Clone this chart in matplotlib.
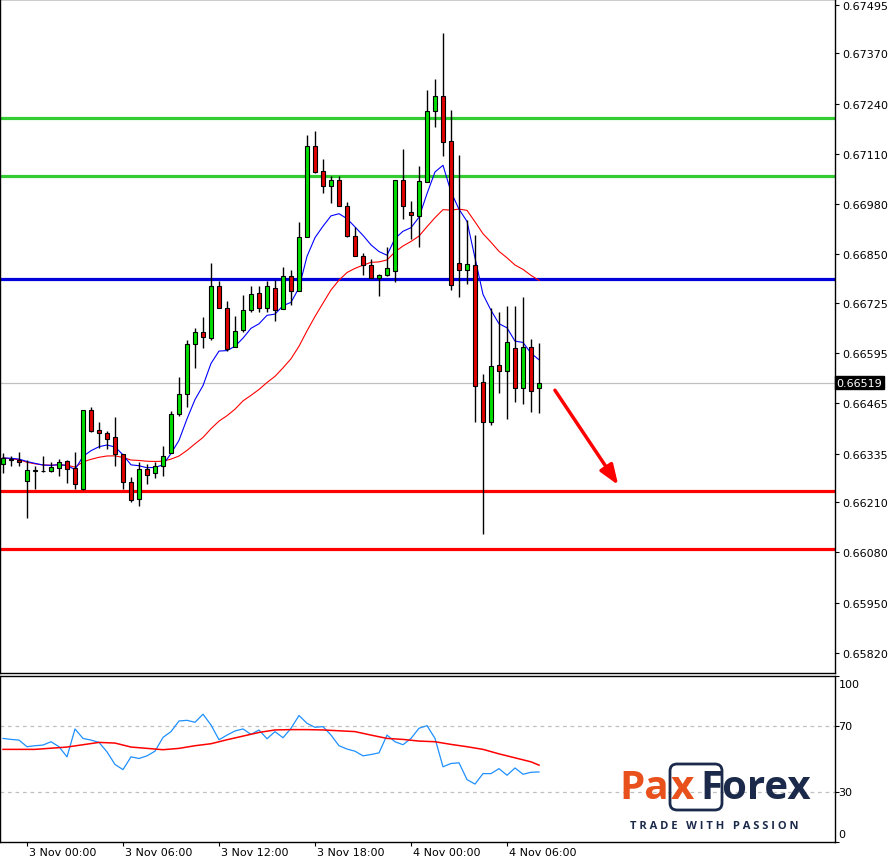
import numpy as np
import pandas as pd
import matplotlib
matplotlib.use("Agg")
import matplotlib.pyplot as plt
from matplotlib.patches import Rectangle, FancyBboxPatch

opens = [66308,66319,66319,66265,66290,66290,66290,66298,66316,66298,66244,66448,66396,66389,66378,66334,66262,66218,66296,66285,
         66303,66337,66438,66489,66619,66650,66634,66769,66712,66611,66655,66707,66750,66712,66763,66709,66794,66756,66895,67130,
         67066,67027,67043,66975,66898,66846,66823,66789,66797,66807,67043,66960,66950,67037,67221,67260,67143,66828,66810,66823,
         66520,66417,66564,66549,66608,66505,66611,66505]
highs = [66337,66329,66340,66319,66303,66329,66314,66322,66319,66340,66448,66456,66417,66394,66430,66334,66275,66314,66309,66314,
         66355,66446,66533,66629,66660,66688,66828,66782,66730,66691,66745,66769,66769,66782,66784,66818,66810,66934,67159,67169,
         67097,67053,67053,66986,66921,66854,66838,66800,66869,67043,67123,66988,67079,67275,67304,67423,67224,67107,66939,66900,
         66541,66712,66701,66717,66717,66740,66632,66621]
lows = [66285,66303,66303,66169,66244,66288,66288,66277,66259,66244,66241,66391,66350,66347,66303,66244,66210,66200,66257,66272,
        66277,66337,66433,66456,66557,66608,66629,66712,66601,66611,66650,66701,66701,66701,66678,66709,66719,66756,66895,67061,
        67009,66983,66975,66895,66846,66797,66789,66743,66794,66779,66942,66890,66869,67037,67180,67105,66758,66740,66774,66417,
        66128,66409,66492,66425,66469,66464,66443,66440]
closes = [66324,66320,66314,66293,66293,66291,66301,66314,66296,66257,66448,66394,66389,66373,66334,66262,66215,66296,66280,66303,
          66329,66438,66489,66619,66650,66637,66769,66712,66606,66652,66707,66748,66712,66769,66707,66794,66756,66895,67130,67063,
          67027,67043,66975,66898,66846,66823,66789,66797,66815,67043,66975,66952,67040,67221,67260,67141,66771,66810,66826,66510,
          66417,66562,66549,66624,66505,66611,66497,66519]

rsi = [62.4,61.8,61.4,57.4,58.0,58.4,60.4,57.4,51.3,68.1,62.4,61.4,60.0,54.3,46.7,43.6,51.3,50.3,51.9,54.7,
       63.0,66.5,72.9,73.3,72.1,77.0,70.5,61.6,64.4,66.9,68.1,64.8,67.5,62.2,66.5,62.8,68.5,76.2,71.5,69.1,
       69.5,64.4,58.0,56.0,54.7,51.9,52.7,53.7,64.4,60.4,58.6,62.4,68.5,70.1,62.4,45.3,47.3,47.7,37.6,34.9,
       41.2,41.2,44.2,40.2,44.6,40.8,42.0,42.2]
rsi_ma_idx = [0,4,8,12,14,16,18,20,22,24,26,28,30,32,34,36,38,40,42,44,46,48,50,52,54,56,58,60,62,64,66,67]
rsi_ma = [55.8,55.8,57.2,60.0,59.6,57.2,56.4,55.6,56.4,58.0,59.2,61.6,63.8,66.0,67.5,67.7,67.7,67.5,67.0,66.5,
          64.4,62.4,61.8,60.8,60.4,58.8,57.4,55.8,53.1,50.7,48.3,46.3]

green_levels = [0.67203, 0.67053]
blue_level = 0.66787
red_levels = [0.66238, 0.66089]
price_ticks = [0.67495,0.67370,0.67240,0.67110,0.66980,0.66850,0.66725,0.66595,0.66465,0.66335,0.66210,0.66080,0.65950,0.65820]
date_idx = [3,15,27,39,51,63]
date_labels = ["3 Nov 00:00","3 Nov 06:00","3 Nov 12:00","3 Nov 18:00","4 Nov 00:00","4 Nov 06:00"]

o = np.array(opens)/1e5; h = np.array(highs)/1e5; l = np.array(lows)/1e5; c = np.array(closes)/1e5
n = len(c); idx = np.arange(n)
ma_fast = pd.Series(c).ewm(span=8, adjust=False).mean()
ma_slow = pd.Series(c).rolling(21, min_periods=1).mean()

W, H = 895, 862
fig = plt.figure(figsize=(W/100, H/100), dpi=100)
ax = fig.add_axes([0, (H-674)/H, 835/W, 674/H])
ax2 = fig.add_axes([0, 19/H, 835/W, 166/H])
xl = (-3/8, (835-3)/8)
ax.set_xlim(*xl); ax2.set_xlim(*xl)
ax.set_ylim(0.65768, 0.675105)

for lv in green_levels:
    ax.axhline(lv, color="#33cc33", lw=2.3, zorder=1)
ax.axhline(blue_level, color="#0000dd", lw=2.3, zorder=1)
for lv in red_levels:
    ax.axhline(lv, color="#ff0000", lw=2.3, zorder=1)
ax.axhline(c[-1], color="#c0c0c0", lw=0.9, zorder=0.5)

ax.plot(idx, ma_slow, color="#ff0000", lw=0.8, zorder=2)
ax.plot(idx, ma_fast, color="#0000ff", lw=0.8, zorder=2)
for i in range(n):
    ax.vlines(i, l[i], h[i], color="black", lw=1, zorder=3)
    lo, hi = min(o[i], c[i]), max(o[i], c[i])
    col = "#00e000" if c[i] >= o[i] else "#e00000"
    ax.add_patch(Rectangle((i-0.3, lo), 0.6, max(hi-lo, 0.000008), facecolor=col,
                           edgecolor="black", lw=0.8, zorder=4))

ax.annotate("", xy=(77.1, 0.66248), xytext=(68.8, 0.66505),
            arrowprops=dict(arrowstyle="-|>,head_length=1.2,head_width=0.45", color="#ff0000", lw=2.5))

ax.yaxis.tick_right()
ax.set_yticks(price_ticks)
ax.set_yticklabels([f"{v:.5f}" for v in price_ticks])
ax.tick_params(axis="y", length=3, labelsize=8, pad=2)
ax.set_xticks([])
ax.text(1.0015, c[-1], f"{c[-1]:.5f}", transform=ax.get_yaxis_transform(), va="center", ha="left",
        fontsize=8, color="white", bbox=dict(boxstyle="square,pad=0.15", fc="black", ec="black"), zorder=10, clip_on=False)

ax2.set_ylim(0, 100)
ax2.axhline(70, color="#c0c0c0", lw=0.9, ls=(0, (3, 3)))
ax2.axhline(30, color="#c0c0c0", lw=0.9, ls=(0, (3, 3)))
ax2.plot(np.arange(len(rsi)), rsi, color="#1e90ff", lw=0.9)
ax2.plot(rsi_ma_idx, rsi_ma, color="#ff0000", lw=1.1)
ax2.yaxis.tick_right()
ax2.set_yticks([100, 70, 30, 0])
ax2.set_yticklabels(["", "", "", ""])
ax2.tick_params(axis="y", length=3)
for v, yy in [(100, 95), (70, 70), (30, 30), (0, 5)]:
    ax2.text(1.004, yy, str(v), transform=ax2.get_yaxis_transform(), va="center", ha="left", fontsize=8)
ax2.set_xticks(date_idx)
ax2.set_xticklabels([""]*len(date_idx))
ax2.tick_params(axis="x", length=3)
for i, t in zip(date_idx, date_labels):
    ax2.text(i+0.2, -0.03, t, ha="left", va="top", fontsize=8, transform=ax2.get_xaxis_transform())

for a in (ax, ax2):
    for s in a.spines.values():
        s.set_color("black"); s.set_linewidth(1)

# logo
fs = 29
fig.text(619/W, 1-789/H, "Pa", color="#e8501c", fontsize=fs, fontweight="bold", va="center", ha="left", family="Open Sans")
fig.text(671/W, 1-789/H, "x", color="#e8501c", fontsize=fs, fontweight="bold", va="center", ha="left", family="Open Sans")
fig.patches.append(FancyBboxPatch((670/W, 1-811/H), 52/W, 46/H, boxstyle="round,pad=0,rounding_size=0.008",
                                  transform=fig.transFigure, fc="none", ec="#1b2a4a", lw=2))
fig.text(700/W, 1-789/H, "Forex", color="#1b2a4a", fontsize=fs, fontweight="bold", va="center", ha="left", family="Open Sans")
fig.text(714/W, 1-827/H, "T R A D E   W I T H   P A S S I O N", color="#1b2a4a", fontsize=8, fontweight="bold", va="center",
         ha="center", family="Open Sans")

fig.savefig("out.png", dpi=100)
